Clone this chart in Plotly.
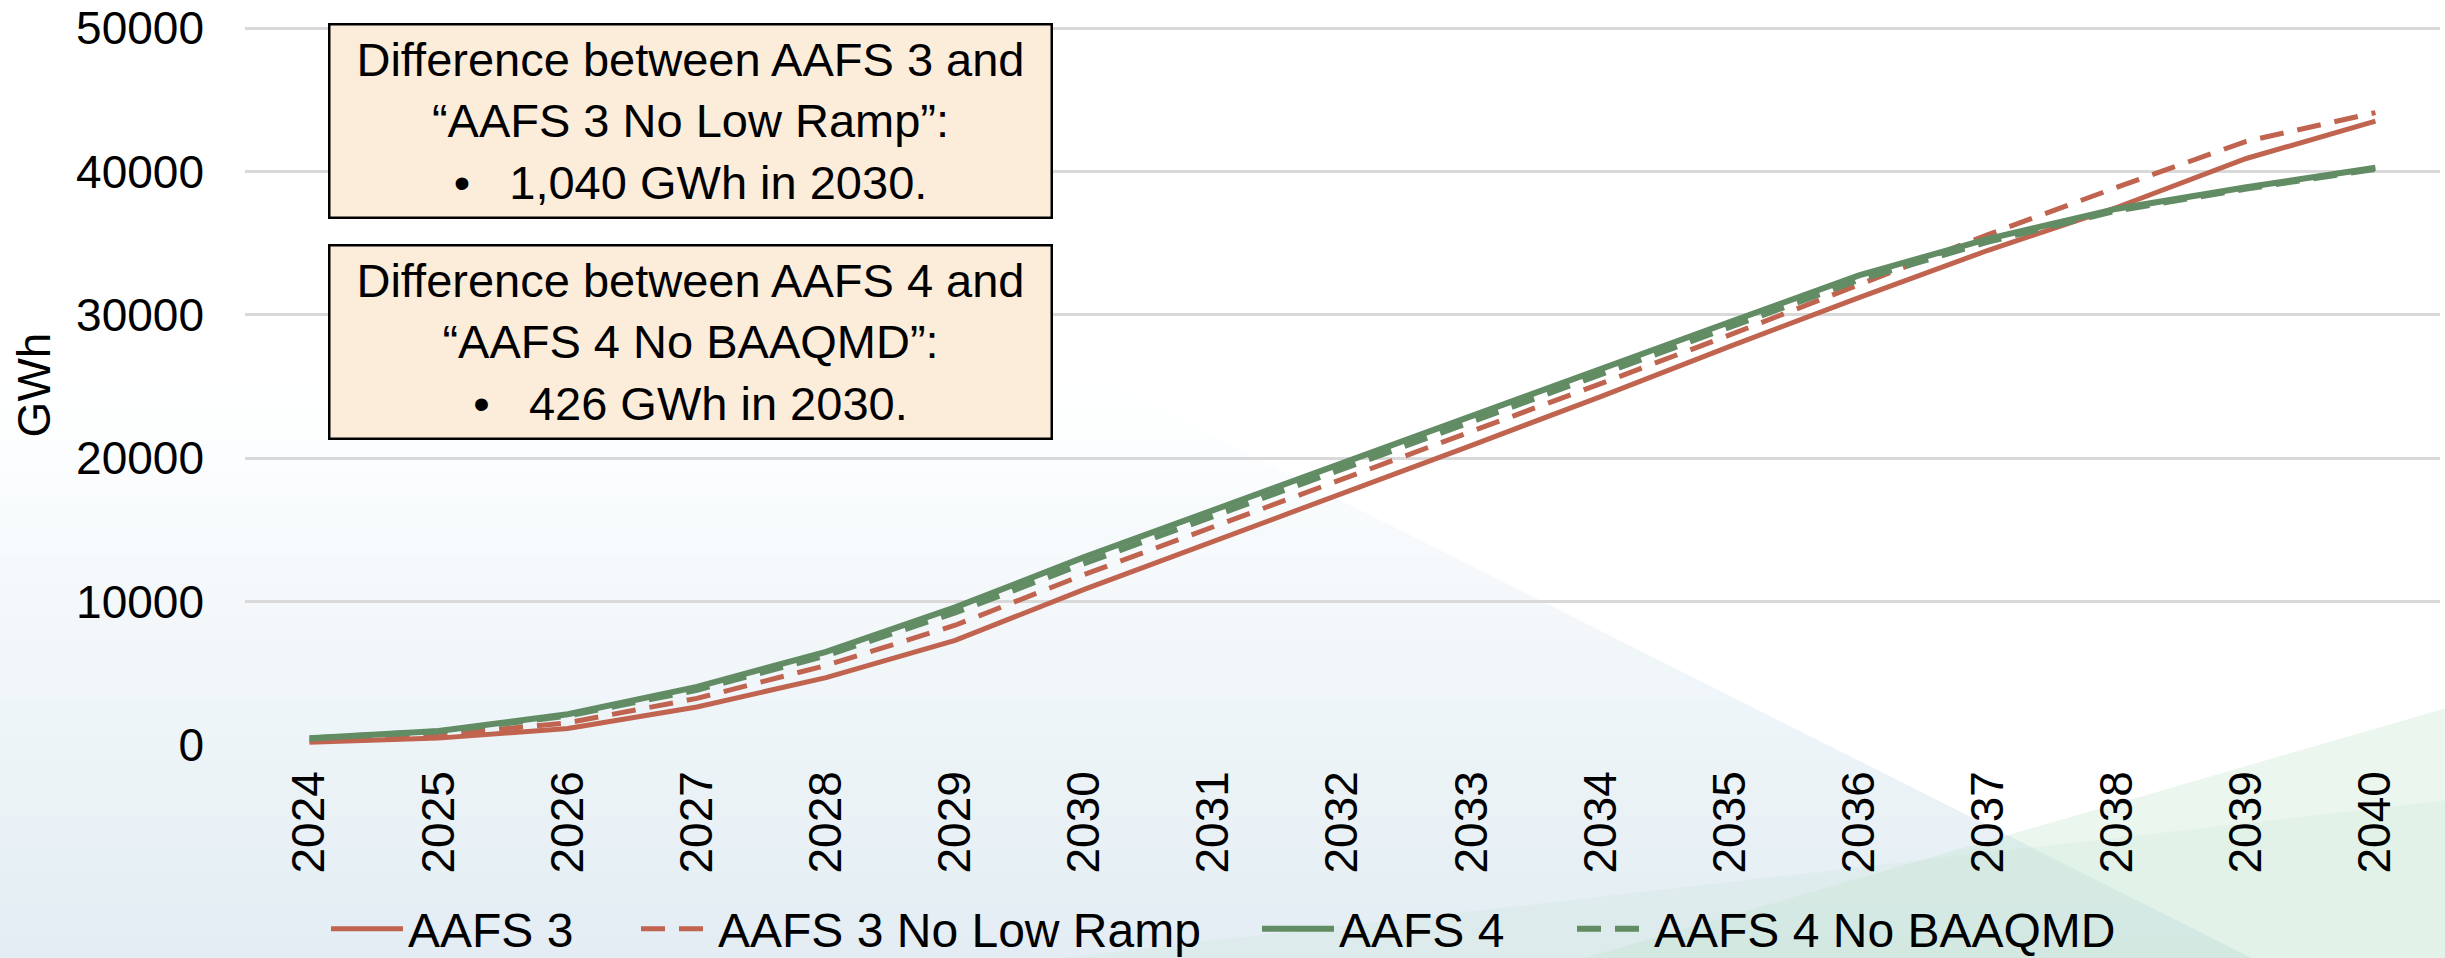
import plotly.graph_objects as go

# ---------------- data ----------------
years = [str(y) for y in range(2024, 2041)]
aafs3 = [200, 480, 1150, 2650, 4700, 7300, 10850, 14200, 17500, 20900, 24300,
         27800, 31200, 34500, 37500, 40900, 43500]
aafs3_no_low_ramp = [250, 700, 1550, 3250, 5550, 8350, 11890, 15200, 18500, 21900,
                     25200, 28600, 32100, 35600, 38900, 42100, 44100]
aafs4 = [470, 980, 2150, 4050, 6500, 9600, 13100, 16400, 19700, 23000, 26200,
         29500, 32750, 35300, 37400, 38900, 40250]
aafs4_no_baaqmd = [460, 940, 2050, 3850, 6250, 9250, 12674, 15980, 19280, 22600,
                   25820, 29150, 32450, 35100, 37280, 38800, 40180]
series_names = ["AAFS 3", "AAFS 3 No Low Ramp", "AAFS 4", "AAFS 4 No BAAQMD"]
y_ticks = [0, 10000, 20000, 30000, 40000, 50000]
box_texts = [
    "Difference between AAFS 3 and<br>\u201cAAFS 3 No Low Ramp\u201d:<br>\u2022\u00a0\u00a0\u00a01,040 GWh in 2030.",
    "Difference between AAFS 4 and<br>\u201cAAFS 4 No BAAQMD\u201d:<br>\u2022\u00a0\u00a0\u00a0426 GWh in 2030.",
]

# ---------------- layout geometry ----------------
OFF = 0   # page body margin is reset to 0 (see post_script below)
W, H = 2445 - OFF, 958 - OFF
Y0_REF, Y50K_REF, TOP_REF = 745, 28, 25     # reference px of 0, 50000 and plot top
L, T = 245 - OFF, TOP_REF - OFF
PR, PB = 2440 - OFF, Y0_REF - OFF          # plot right / bottom in figure px
R, B = W - PR, H - PB
PW, PH = PR - L, PB - T
Y_TOP = 50000 * (Y0_REF - TOP_REF) / (Y0_REF - Y50K_REF)
FONT = "Arial, Liberation Sans, sans-serif"
RED = "#C06450"
GREEN = "#628C64"


def px(x):
    """reference-page x pixel -> paper coordinate"""
    return (x - OFF - L) / PW


def py(y):
    """reference-page y pixel -> paper coordinate"""
    return (PB - (y - OFF)) / PH


fig = go.Figure()
styles = [
    dict(color=RED, width=5),
    dict(color=RED, width=5, dash="24px,14px"),
    dict(color=GREEN, width=6),
    dict(color=GREEN, width=6, dash="24px,14px"),
]
data = [aafs3, aafs3_no_low_ramp, aafs4, aafs4_no_baaqmd]
legends = ["legend", "legend2", "legend3", "legend4"]
for name, vals, st, lg in zip(series_names, data, styles, legends):
    fig.add_trace(go.Scatter(x=years, y=vals, name=name, mode="lines",
                             line=st, legend=lg))

# ---------------- background decoration ----------------
shapes = []


def xdiag(y):
    return 1340 + (y - 500) / 0.503


n = 20
g0, g1 = 380, 965
c_top = (255, 255, 255)
c_bot = (226, 237, 243)
for i in range(n):
    ya = g0 + (g1 - g0) * i / n
    t = (i + 0.5) / n
    col = tuple(round(c_top[k] + (c_bot[k] - c_top[k]) * t) for k in range(3))
    path = (f"M {px(-20)},{py(ya)} L {px(xdiag(ya))},{py(ya)} "
            f"L {px(xdiag(g1))},{py(g1)} L {px(-20)},{py(g1)} Z")
    shapes.append(dict(type="path", path=path, xref="paper", yref="paper",
                       fillcolor=f"rgb{col}", line=dict(width=0), layer="below"))
path = (f"M {px(1560)},{py(965)} L {px(2450)},{py(707)} L {px(2450)},{py(965)} Z")
shapes.append(dict(type="path", path=path, xref="paper", yref="paper",
                   fillcolor="rgba(196,228,206,0.35)", line=dict(width=0),
                   layer="below"))
path = (f"M {px(1000)},{py(965)} L {px(2450)},{py(800)} L {px(2450)},{py(965)} Z")
shapes.append(dict(type="path", path=path, xref="paper", yref="paper",
                   fillcolor="rgba(200,228,214,0.22)", line=dict(width=0),
                   layer="below"))

# ---------------- annotation boxes ----------------
annotations = []
box_centers_y = [121, 341.5]
for txt, cy in zip(box_texts, box_centers_y):
    annotations.append(dict(
        text=txt, xref="paper", yref="paper", x=px(690), y=py(cy),
        xanchor="center", yanchor="middle", showarrow=False,
        align="center", valign="middle",
        width=720, height=191, bgcolor="#FCECDA", bordercolor="#000000",
        borderwidth=2.5, borderpad=0,
        font=dict(family=FONT, size=47, color="#000000")))

# ---------------- legends (one per series, positioned like the source) ----------------
legend_starts = [329, 639, 1260, 1575]
legend_cfg = {}
for lg, xs in zip(legends, legend_starts):
    legend_cfg[lg] = dict(
        orientation="h", x=px(xs - 3), y=py(929), xanchor="left", yanchor="middle",
        font=dict(family=FONT, size=48, color="#000000"),
        bgcolor="rgba(0,0,0,0)", itemwidth=72, borderwidth=0,
        itemclick=False, itemdoubleclick=False)

fig.update_layout(
    width=W, height=H,
    margin=dict(l=L, r=R, t=T, b=B, autoexpand=False),
    paper_bgcolor="#FFFFFF", plot_bgcolor="rgba(0,0,0,0)",
    font=dict(family=FONT, size=46, color="#000000"),
    showlegend=True, hovermode=False,
    shapes=shapes, annotations=annotations,
    xaxis=dict(type="category", range=[-0.5, len(years) - 0.5],
               tickangle=-90, showgrid=False, showline=False, zeroline=False,
               ticks="", ticklabelstandoff=16,
               tickfont=dict(family=FONT, size=46, color="#000000")),
    yaxis=dict(range=[0, Y_TOP], tickvals=y_ticks, tickformat="d",
               showgrid=True, gridcolor="#D9D9D9", gridwidth=2.5,
               zeroline=False, showline=False, ticks="", ticklabelstandoff=40,
               ticklabeloverflow="allow",
               tickfont=dict(family=FONT, size=46, color="#000000"),
               title=dict(text="GWh", standoff=10,
                          font=dict(family=FONT, size=46, color="#000000"))),
    **legend_cfg,
)

fig.write_html(
    "out.html",
    config={"displayModeBar": False},
    post_script="document.body.style.margin='0';document.body.style.overflow='hidden';",
)
